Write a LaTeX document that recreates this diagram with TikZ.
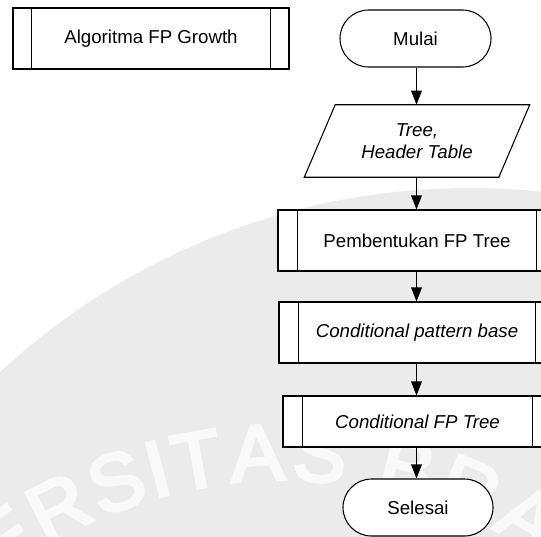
\documentclass[tikz,border=0pt]{standalone}
\usepackage{fontspec}
\setmainfont{Liberation Sans}
\newfontfamily\sealfont[FakeBold=4]{Liberation Sans}
\usetikzlibrary{shapes.misc,arrows.meta}

\tikzset{
  every node/.style={font=\fontsize{14}{16.5}\selectfont, align=center},
  flow/.style={line width=0.8pt, -{Triangle[length=10.5pt,width=8pt]}},
  terminal/.style={draw, fill=white, line width=0.8pt, rounded rectangle, inner sep=0pt},
  procbox/.style={draw, fill=white, line width=0.8pt, rectangle, inner sep=0pt},
  iobox/.style={rectangle, inner sep=0pt},
  sideline/.style={line width=0.8pt},
  seal/.style={fill=gray!16, draw=none},
  sealchar/.style={anchor=base, inner sep=0pt, text=gray!5,
    font=\sealfont\fontsize{60}{60}\selectfont}
}

\begin{document}
\begin{tikzpicture}[x=0.75pt, y=-0.75pt]
  \useasboundingbox (0,0) rectangle (541,536);
  \clip (0,0) rectangle (541,536);

  % background seal with its lettering set on an arc
  \fill[seal] (470,880) circle [radius=692];
  \foreach \ch/\a [count=\i] in {E/124.6, R/117.25, S/109.9, I/104.9, T/100.2,
                                 A/93.15, S/85.8, B/75.5, R/67.86, A/60.22}
    \path (284,945) ++(-\a:465) node[sealchar, rotate=\a-90] (seal\i) {\ch};

  % stand-alone subprocess label
  \node[procbox, minimum width=207pt, minimum height=45.75pt] (alg) at (151,38.5) {Algoritma FP Growth};
  \draw[sideline] ([xshift=14.25pt]alg.north west) -- ([xshift=14.25pt]alg.south west);
  \draw[sideline] ([xshift=-14.25pt]alg.north east) -- ([xshift=-14.25pt]alg.south east);

  % main flow
  \coordinate (axis) at (416.5,0);
  \node[terminal, minimum width=113.25pt, minimum height=42.75pt] (start) at (415.5,38.5) {Mulai};
  \node[iobox, minimum width=145.5pt, minimum height=54pt] (io) at (417,141) {\itshape Tree,\\ \itshape Header Table};
  \draw[sideline] ([xshift=11.6pt]io.north west) -- ([xshift=11.6pt]io.north east)
    -- ([xshift=-11.6pt]io.south east) -- ([xshift=-11.6pt]io.south west) -- cycle;
  \node[procbox, minimum width=208.5pt, minimum height=45.75pt] (fpt) at (417,240.5) {Pembentukan FP Tree};
  \node[procbox, minimum width=207pt, minimum height=45.75pt] (cpb) at (417,332.5) {\itshape Conditional pattern base};
  \node[procbox, minimum width=201.75pt, minimum height=38.25pt] (cfp) at (417.5,421.5) {\itshape Conditional FP Tree};
  \node[terminal, minimum width=112.5pt, minimum height=42.75pt] (end) at (418,507.5) {Selesai};

  \foreach \b in {fpt,cpb,cfp}{
    \draw[sideline] ([xshift=15pt]\b.north west) -- ([xshift=15pt]\b.south west);
    \draw[sideline] ([xshift=-15pt]\b.north east) -- ([xshift=-15pt]\b.south east);
  }

  \draw[flow] (start.south -| axis) -- (io.north -| axis);
  \draw[flow] (io.south -| axis) -- (fpt.north -| axis);
  \draw[flow] (fpt.south -| axis) -- (cpb.north -| axis);
  \draw[flow] (cpb.south -| axis) -- (cfp.north -| axis);
  \draw[flow] (cfp.south -| axis) -- (end.north -| axis);
\end{tikzpicture}
\end{document}
